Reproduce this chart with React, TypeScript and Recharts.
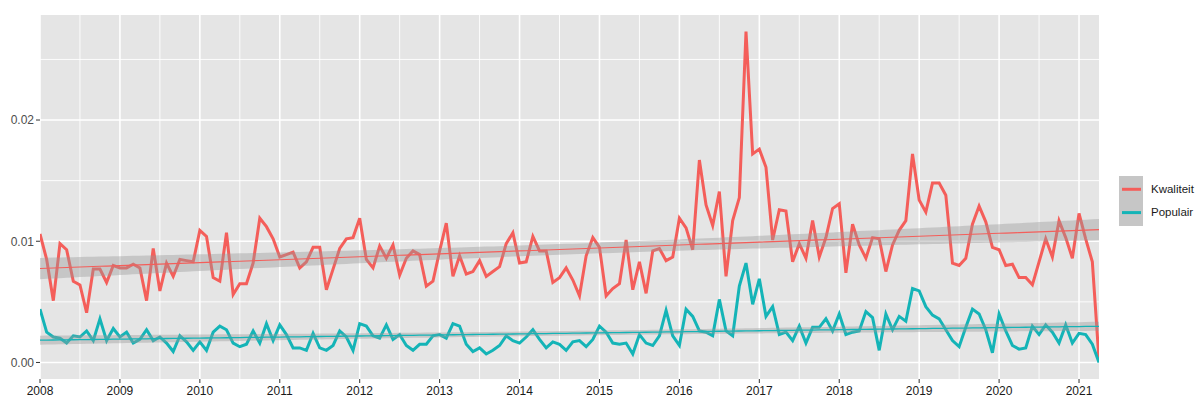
import {
  Area,
  CartesianGrid,
  ComposedChart,
  Legend,
  Line,
  XAxis,
  YAxis,
} from "recharts";

const FONT = '"Liberation Sans", Arial, sans-serif';
const RED = "#F45E5A";
const TEAL = "#14B4B7";

const startYear = 2008;
const yearTicks = [2008, 2009, 2010, 2011, 2012, 2013, 2014, 2015, 2016, 2017, 2018, 2019, 2020, 2021];
const halfYearLines = [2008.5, 2009.5, 2010.5, 2011.5, 2012.5, 2013.5, 2014.5, 2015.5, 2016.5, 2017.5, 2018.5, 2019.5, 2020.5];
const yTicks = [0, 0.01, 0.02];
const yMinor = [0.005, 0.015, 0.025];
const seriesNames = ["Kwaliteit", "Populair"];

// monthly values, Jan 2008 .. Apr 2021
const kwaliteit = [
  0.0106, 0.0085, 0.0051, 0.0098, 0.0093, 0.0067, 0.0064, 0.0041, 0.0077, 0.0077, 0.0066, 0.008,
  0.0078, 0.0078, 0.0081, 0.0078, 0.0051, 0.0094, 0.0059, 0.0082, 0.0071, 0.0085, 0.0084, 0.0083,
  0.0109, 0.0104, 0.007, 0.0067, 0.0107, 0.0056, 0.0065, 0.0065, 0.0082, 0.0119, 0.0112, 0.0102,
  0.0087, 0.0089, 0.0091, 0.0078, 0.0083, 0.0095, 0.0095, 0.006, 0.0077, 0.0094, 0.0102, 0.0103,
  0.0119, 0.0085, 0.0078, 0.0096, 0.0086, 0.0097, 0.0072, 0.0086, 0.0092, 0.0089, 0.0063, 0.0067,
  0.0092, 0.0115, 0.0071, 0.0088, 0.0073, 0.0075, 0.0084, 0.0071, 0.0075, 0.0079, 0.0098, 0.0107,
  0.0082, 0.0083, 0.0104, 0.0092, 0.0092, 0.0066, 0.007, 0.0078, 0.0068, 0.0055, 0.0088, 0.0103,
  0.0095, 0.0055, 0.0061, 0.0065, 0.0101, 0.006, 0.0083, 0.0057, 0.0092, 0.0094, 0.0084, 0.0087,
  0.0119, 0.0111, 0.0093, 0.0167, 0.013, 0.0113, 0.0141, 0.0071, 0.0117, 0.0136, 0.0273, 0.0172,
  0.0176, 0.0161, 0.0101, 0.0126, 0.0125, 0.0083, 0.0098, 0.0086, 0.0117, 0.0087, 0.0103, 0.0127,
  0.0131, 0.0074, 0.0114, 0.0097, 0.0086, 0.0103, 0.0102, 0.0075, 0.0097, 0.0109, 0.0117, 0.0172,
  0.0134, 0.0124, 0.0148, 0.0148, 0.0138, 0.0082, 0.008, 0.0086, 0.0114, 0.0129, 0.0116, 0.0095,
  0.0093, 0.008, 0.0081, 0.007, 0.007, 0.0064, 0.0083, 0.0102, 0.0087, 0.0117, 0.0103, 0.0086,
  0.0123, 0.0102, 0.0083, 0.0002,
];

const populair = [
  0.0044, 0.0025, 0.0021, 0.002, 0.0016, 0.0022, 0.0021, 0.0026, 0.0018, 0.0036, 0.0018, 0.0028,
  0.0021, 0.0025, 0.0016, 0.0019, 0.0027, 0.0018, 0.0021, 0.0016, 0.0009, 0.0022, 0.0017, 0.001,
  0.0017, 0.001, 0.0025, 0.003, 0.0027, 0.0016, 0.0013, 0.0015, 0.0026, 0.0016, 0.0032, 0.0018,
  0.0031, 0.0023, 0.0012, 0.0012, 0.001, 0.0024, 0.0012, 0.001, 0.0014, 0.0026, 0.0021, 0.001,
  0.0032, 0.003, 0.0022, 0.002, 0.0031, 0.0019, 0.0023, 0.0014, 0.001, 0.0015, 0.0015, 0.0022,
  0.0023, 0.002, 0.0032, 0.003, 0.0015, 0.0009, 0.0012, 0.0007, 0.001, 0.0014, 0.0022, 0.0018,
  0.0016, 0.0021, 0.0027, 0.0019, 0.0012, 0.0017, 0.0015, 0.001, 0.0017, 0.0018, 0.0013, 0.0019,
  0.003, 0.0025, 0.0016, 0.0015, 0.0016, 0.0007, 0.0023, 0.0016, 0.0014, 0.0022, 0.0043, 0.0022,
  0.0014, 0.0044, 0.0038, 0.0026, 0.0025, 0.0022, 0.0052, 0.0026, 0.0022, 0.0063, 0.0082, 0.0048,
  0.0069, 0.0038, 0.0046, 0.0023, 0.0025, 0.0018, 0.003, 0.0016, 0.0029, 0.0029, 0.0036, 0.0026,
  0.004, 0.0023, 0.0025, 0.0026, 0.0042, 0.0037, 0.001, 0.004, 0.0027, 0.0038, 0.0034, 0.0061,
  0.0059, 0.0046, 0.0039, 0.0036, 0.0027, 0.0018, 0.0013, 0.0029, 0.0044, 0.004, 0.0027, 0.0008,
  0.004, 0.0026, 0.0014, 0.0011, 0.0012, 0.003, 0.0023, 0.0031, 0.0025, 0.0016, 0.0031, 0.0016,
  0.0024, 0.0023, 0.0015, 0.0,
];

const months = kwaliteit.map((_, i) => startYear + i / 12);

// linear fit with 95% confidence band, like geom_smooth(method = "lm")
function lmBand(xs: number[], ys: number[]) {
  const n = xs.length;
  const mx = xs.reduce((a, b) => a + b, 0) / n;
  const my = ys.reduce((a, b) => a + b, 0) / n;
  let sxx = 0;
  let sxy = 0;
  xs.forEach((x, i) => {
    sxx += (x - mx) ** 2;
    sxy += (x - mx) * (ys[i] - my);
  });
  const slope = sxy / sxx;
  const icpt = my - slope * mx;
  let sse = 0;
  xs.forEach((x, i) => (sse += (ys[i] - icpt - slope * x) ** 2));
  const s = Math.sqrt(sse / (n - 2));
  const t = 1.975;
  return xs.map((x) => {
    const fit = icpt + slope * x;
    const se = s * Math.sqrt(1 / n + (x - mx) ** 2 / sxx);
    return { fit, lo: fit - t * se, hi: fit + t * se };
  });
}

const kFit = lmBand(months, kwaliteit);
const pFit = lmBand(months, populair);

const rows = months.map((x, i) => ({
  x,
  kwaliteit: kwaliteit[i],
  populair: populair[i],
  kFit: kFit[i].fit,
  kBand: [kFit[i].lo, kFit[i].hi],
  pFit: pFit[i].fit,
  pBand: [pFit[i].lo, pFit[i].hi],
}));

const allVals = [...kwaliteit, ...populair];
const yLo = Math.min(...allVals);
const yHi = Math.max(...allVals);
const yPad = (yHi - yLo) * 0.05;

function LegendBox() {
  const colors = [RED, TEAL];
  return (
    <div style={{ position: "relative", width: 76, height: 50, fontFamily: FONT, fontSize: 11.5, color: "#1a1a1a" }}>
      <svg width={24} height={50} style={{ position: "absolute", left: 0, top: 0 }}>
        <rect x={0} y={0} width={24} height={50} fill="#c6c6c6" />
        {colors.map((c, i) => (
          <line key={c} x1={3} x2={22} y1={13.3 + i * 23.3} y2={13.3 + i * 23.3} stroke={c} strokeWidth={3} />
        ))}
      </svg>
      {seriesNames.map((name, i) => (
        <div key={name} style={{ position: "absolute", left: 32, top: 5.5 + i * 23.3, lineHeight: "15px" }}>
          {name}
        </div>
      ))}
    </div>
  );
}

export default function App() {
  return (
    <div style={{ position: "absolute", left: 0, top: 0, width: 1195, height: 402, background: "#fff" }}>
      <ComposedChart
        width={1195}
        height={402}
        data={rows}
        margin={{ top: 15, right: 96, bottom: 0, left: 0 }}
        style={{ fontFamily: FONT }}
      >
        <CartesianGrid
          fill="#E5E5E5"
          stroke="#ffffff"
          strokeWidth={0.9}
          horizontalValues={yMinor}
          verticalValues={halfYearLines}
        />
        <CartesianGrid
          stroke="#ffffff"
          strokeWidth={1.6}
          horizontalValues={yTicks}
          verticalValues={yearTicks}
        />
        <XAxis
          dataKey="x"
          type="number"
          domain={[startYear, months[months.length - 1]]}
          ticks={yearTicks}
          tickFormatter={(v) => String(v)}
          axisLine={false}
          tickLine={{ stroke: "#333333" }}
          tickSize={4}
          tickMargin={3}
          height={23}
          tick={{ fill: "#1a1a1a", fontSize: 12, fontFamily: FONT }}
          allowDataOverflow
        />
        <YAxis
          type="number"
          domain={[yLo - yPad, yHi + yPad]}
          ticks={yTicks}
          tickFormatter={(v) => v.toFixed(2)}
          axisLine={false}
          tickLine={{ stroke: "#333333" }}
          tickSize={4}
          tickMargin={2}
          width={40}
          tick={{ fill: "#4D4D4D", fontSize: 12, fontFamily: FONT }}
          allowDataOverflow
        />
        <Legend
          layout="horizontal"
          verticalAlign="middle"
          align="center"
          content={() => <LegendBox />}
          wrapperStyle={{ left: 1119, top: 176, width: 76, height: 50 }}
        />
        <Line dataKey="kwaliteit" stroke={RED} strokeWidth={3} dot={false} activeDot={false} isAnimationActive={false} />
        <Line dataKey="populair" stroke={TEAL} strokeWidth={3} dot={false} activeDot={false} isAnimationActive={false} />
        <Area dataKey="kBand" stroke="none" fill="#999999" fillOpacity={0.4} dot={false} activeDot={false} isAnimationActive={false} zIndex={450} />
        <Line dataKey="kFit" stroke={RED} strokeWidth={1.1} dot={false} activeDot={false} isAnimationActive={false} zIndex={460} />
        <Area dataKey="pBand" stroke="none" fill="#999999" fillOpacity={0.4} dot={false} activeDot={false} isAnimationActive={false} zIndex={470} />
        <Line dataKey="pFit" stroke={TEAL} strokeWidth={1.3} dot={false} activeDot={false} isAnimationActive={false} zIndex={480} />
      </ComposedChart>
    </div>
  );
}
